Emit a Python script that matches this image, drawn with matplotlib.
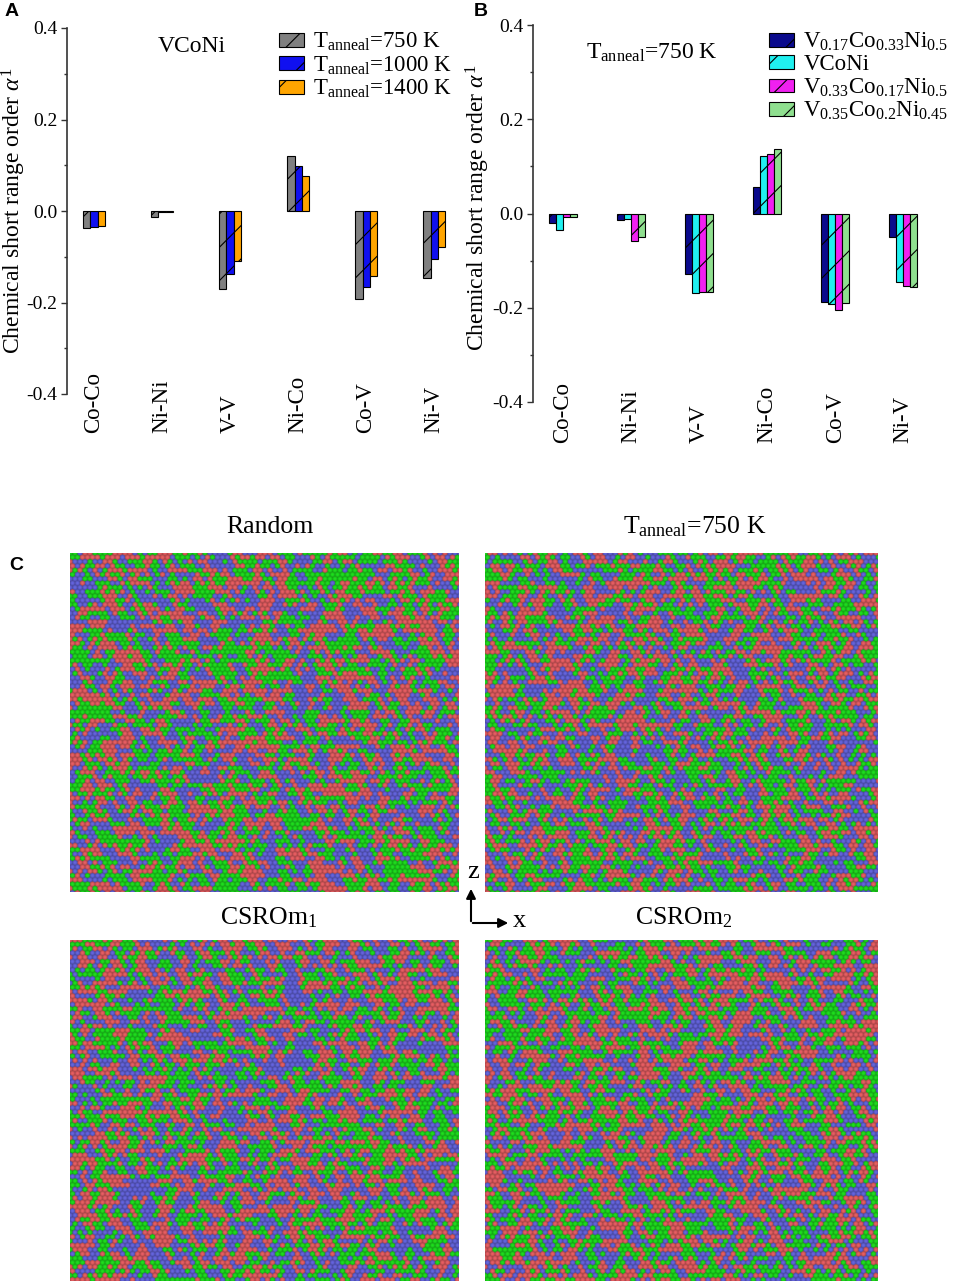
import numpy as np
import matplotlib
matplotlib.use("Agg")
from matplotlib import pyplot as plt
from matplotlib import transforms


pairs = ['Co-Co', 'Ni-Ni', 'V-V', 'Ni-Co', 'Co-V', 'Ni-V']

# panel A: VCoNi at three anneal temperatures
sro_750 = [-0.037, -0.013, -0.170, 0.121, -0.193, -0.146]
sro_1000 = [-0.035, -0.003, -0.137, 0.099, -0.167, -0.106]
sro_1400 = [-0.033, -0.002, -0.109, 0.077, -0.141, -0.079]
labels_a = [r'T$_{\rm anneal}$=750 K', r'T$_{\rm anneal}$=1000 K', r'T$_{\rm anneal}$=1400 K']
colors_a = ['#808080', '#1010f0', '#ffa500']

# panel B: four compositions at 750 K
sro_v17 = [-0.021, -0.014, -0.129, 0.057, -0.187, -0.049]
sro_vconi = [-0.035, -0.011, -0.168, 0.122, -0.192, -0.146]
sro_v33 = [-0.007, -0.058, -0.167, 0.126, -0.205, -0.154]
sro_v35 = [-0.007, -0.049, -0.166, 0.136, -0.189, -0.155]
labels_b = [r'V$_{0.17}$Co$_{0.33}$Ni$_{0.5}$', 'VCoNi',
            r'V$_{0.33}$Co$_{0.17}$Ni$_{0.5}$', r'V$_{0.35}$Co$_{0.2}$Ni$_{0.45}$']
colors_b = ['#0a0a8c', '#20f0f0', '#f020f0', '#8fdf8f']

y_ticks = [-0.4, -0.2, 0.0, 0.2, 0.4]
y_ticklabels = ['-0.4', '-0.2', '0.0', '0.2', '0.4']

snapshot_titles = ['Random', r'T$_{\rm anneal}$=750 K', r'CSROm$_1$', r'CSROm$_2$']

plt.rcParams['font.family'] = ['Liberation Serif', 'DejaVu Serif']
plt.rcParams['mathtext.fontset'] = 'custom'
plt.rcParams['mathtext.rm'] = 'Liberation Serif'
plt.rcParams['mathtext.it'] = 'Liberation Serif:italic'
plt.rcParams['hatch.linewidth'] = 0.8

W, H = 955, 1281
fig = plt.figure(figsize=(W / 100, H / 100), dpi=100)


def px_axes(x0, y0, x1, y1):
    return fig.add_axes([x0 / W, 1 - y1 / H, (x1 - x0) / W, (y1 - y0) / H])


def bar_panel(ax, series, colors, labels, width, xlim, label_y, leg_xy):
    n = len(series)
    x = np.arange(len(pairs))
    handles = []
    for k, (vals, col, lab) in enumerate(zip(series, colors, labels)):
        b = ax.bar(x + (k - (n - 1) / 2) * width, vals, width, color=col,
                   edgecolor='black', linewidth=0.8, hatch='/', label=lab)
        handles.append(b)
    ax.set_xlim(*xlim)
    ax.set_ylim(-0.4, 0.4)
    for s in ['top', 'right', 'bottom']:
        ax.spines[s].set_visible(False)
    ax.spines['left'].set_color('#333333')
    ax.spines['left'].set_linewidth(1.2)
    ax.set_xticks([])
    ax.set_yticks(y_ticks)
    ax.set_yticklabels(y_ticklabels, fontsize=14)
    ax.set_yticks([-0.3, -0.1, 0.1, 0.3], minor=True)
    ax.tick_params(axis='y', which='major', length=4, width=1, color='#333333', pad=3)
    ax.tick_params(axis='y', which='minor', length=2.5, width=1, color='#333333')
    trans = transforms.blended_transform_factory(ax.transData, ax.transData)
    for i, p in enumerate(pairs):
        ax.text(i, label_y, p, rotation=90, ha='center', va='bottom',
                fontsize=16.5, transform=trans, clip_on=False)
    ax.set_ylabel(r'Chemical short range order $\alpha^1$', fontsize=17)
    ax.legend(handles=handles, loc='upper left', frameon=False, fontsize=16.5,
              bbox_to_anchor=(leg_xy[0] / W, 1 - leg_xy[1] / H),
              bbox_transform=fig.transFigure, handlelength=1.1, handleheight=0.55,
              handletextpad=0.4, labelspacing=0.05, borderpad=0, borderaxespad=0)


ax_a = px_axes(67, 28, 460, 394)
bar_panel(ax_a, [sro_750, sro_1000, sro_1400], colors_a, labels_a, 0.105,
          (-0.397, 5.38), -0.485, (279, 31))
ax_a.yaxis.set_label_coords(-0.10, 0.5)

ax_b = px_axes(533, 25, 940, 402)
bar_panel(ax_b, [sro_v17, sro_vconi, sro_v33, sro_v35], colors_b, labels_b, 0.103,
          (-0.44, 5.54), -0.487, (769, 31))
ax_b.yaxis.set_label_coords(-0.10, 0.515)


# texture for the atom snapshots (not data, just a stand-in for the rendering)
def hash_noise(shape, k):
    i, j = np.indices(shape)
    v = np.sin(i * 12.9898 + j * 78.233 + k * 37.719) * 43758.5453
    return v - np.floor(v)


def atom_image(w, h, k, smooth):
    dx, dy = 10.0, 8.6
    nr, nc = int(h / dy) + 4, int(w / dx) + 4
    fields = []
    for t in range(3):
        f = hash_noise((nr, nc), k * 3 + t + 1)
        g = f.copy()
        for sr, sc in [(1, 0), (-1, 0), (0, 1), (0, -1), (1, 1), (-1, -1)]:
            g += smooth * np.roll(np.roll(f, sr, 0), sc, 1)
        fields.append(g)
    types = np.argmax(np.array(fields), axis=0)

    ys, xs = np.mgrid[0:h, 0:w] + 0.5
    r0 = np.round(ys / dy).astype(int)
    best = np.full(ys.shape, np.inf)
    br = np.zeros(ys.shape, int)
    bc = np.zeros(ys.shape, int)
    for dr in (-1, 0, 1):
        r = r0 + dr
        off = (r % 2) * dx / 2
        c = np.round((xs - off) / dx).astype(int)
        d2 = (xs - (c * dx + off)) ** 2 + (ys - r * dy) ** 2
        m = d2 < best
        best[m] = d2[m]
        br[m] = r[m]
        bc[m] = c[m]
    t = types[np.clip(br + 1, 0, nr - 1), np.clip(bc + 1, 0, nc - 1)]
    palette = np.array([[236, 96, 100], [30, 226, 30], [102, 102, 226]]) / 255.0
    rgb = palette[t]
    rad = dx * 0.6
    shade = np.clip(1.0 - 0.4 * best / rad ** 2, 0.55, 1.0)
    return rgb * shade[..., None]


boxes = [(70, 553, 459, 892), (485, 553, 877, 892), (70, 940, 459, 1281), (485, 940, 877, 1281)]
smooths = [0.15, 0.1, 0.15, 0.12]
for k, (box, sm) in enumerate(zip(boxes, smooths)):
    ax = px_axes(*box)
    img = atom_image((box[2] - box[0]) * 2, (box[3] - box[1]) * 2, k, sm)
    ax.imshow(img, interpolation='antialiased', aspect='auto')
    ax.axis('off')

# overlay in pixel coordinates for free text and the axis arrows
ov = fig.add_axes([0, 0, 1, 1])
ov.set_xlim(0, W)
ov.set_ylim(H, 0)
ov.axis('off')

ov.text(12, 12, 'A', fontsize=14, fontweight='bold', family='Liberation Sans', ha='center', va='center')
ov.text(481, 12, 'B', fontsize=14, fontweight='bold', family='Liberation Sans', ha='center', va='center')
ov.text(16, 565, 'C', fontsize=14, fontweight='bold', family='Liberation Sans', ha='center', va='center')

ov.text(192, 47, 'VCoNi', fontsize=17, ha='center', va='center')
ov.text(652, 53, r'T$_{\rm anneal}$=750 K', fontsize=17, ha='center', va='center')

title_xy = [(270, 527), (695, 527), (269, 918), (684, 918)]
for (tx, ty), tt in zip(title_xy, snapshot_titles):
    ov.text(tx, ty, tt, fontsize=18.5, ha='center', va='center')

ov.annotate('', xy=(471, 886), xytext=(471, 924),
            arrowprops=dict(arrowstyle='-|>', color='black', lw=1.5, mutation_scale=14))
ov.annotate('', xy=(511, 923), xytext=(470, 923),
            arrowprops=dict(arrowstyle='-|>', color='black', lw=1.5, mutation_scale=14))
ov.text(473, 872, 'z', fontsize=19, ha='center', va='center')
ov.text(519, 921, 'x', fontsize=19, ha='center', va='center')

fig.savefig('out.png', dpi=100)
